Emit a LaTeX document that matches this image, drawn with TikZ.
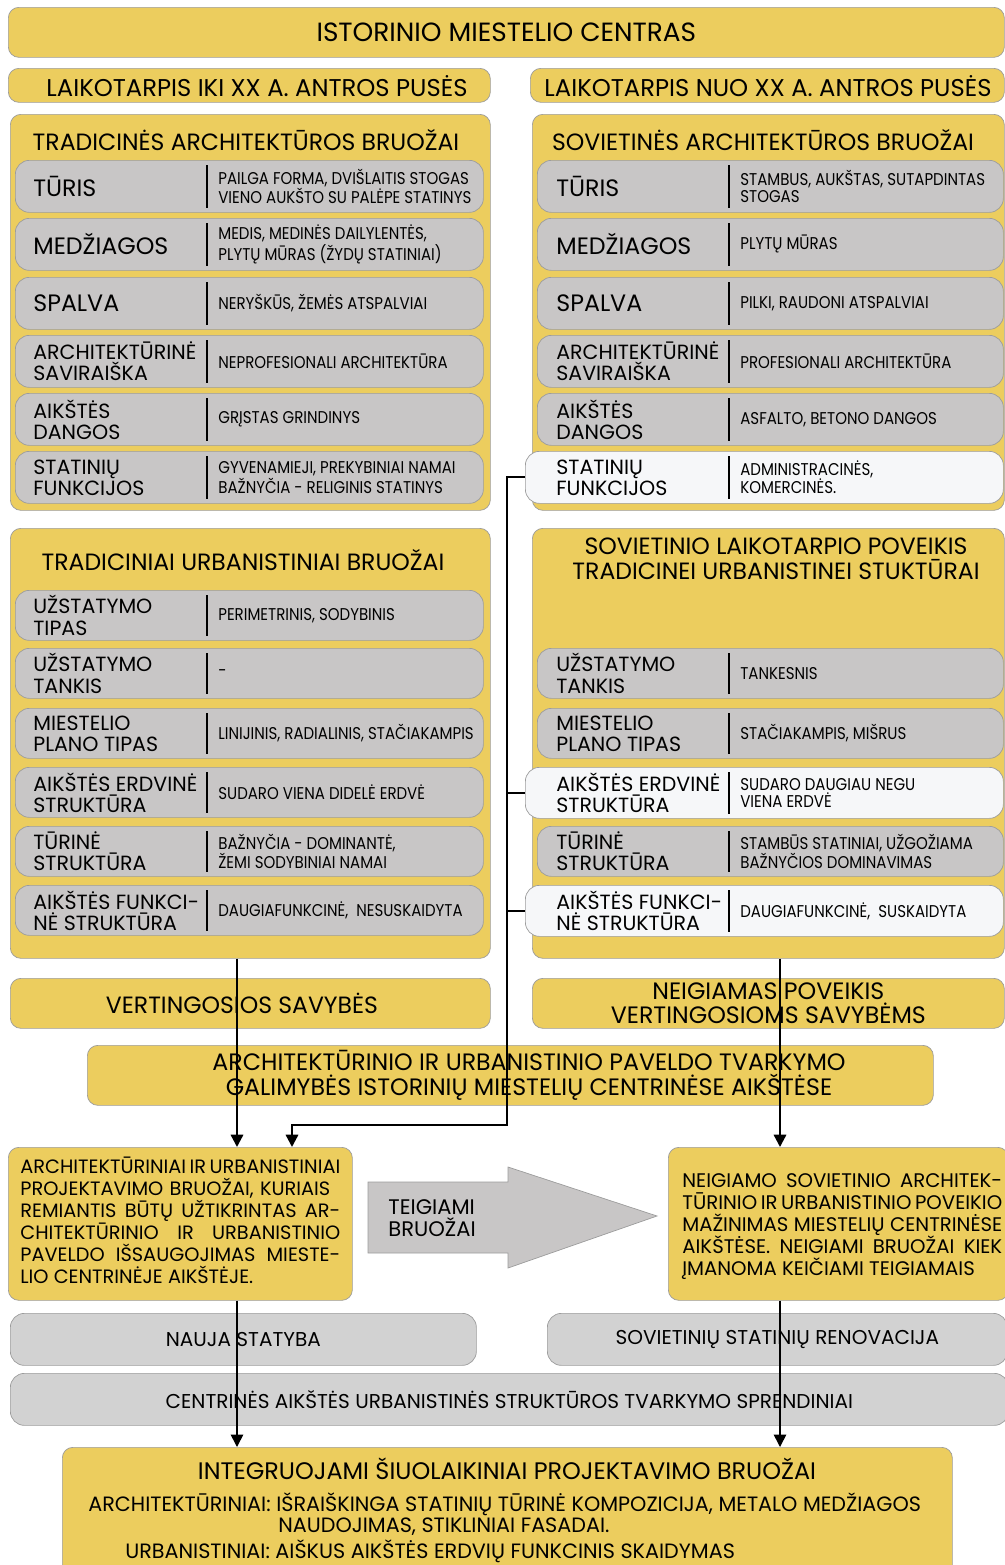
\documentclass[tikz,border=0pt]{standalone}
\usepackage{fontspec}
\setmainfont{Poppins}
\newfontfamily\narrowfont[FakeStretch=0.88]{Poppins}
\usetikzlibrary{positioning,arrows.meta,calc}
\definecolor{ylw}{HTML}{ECCD5E}
\definecolor{rowgray}{HTML}{C8C6C6}
\definecolor{rowwhite}{HTML}{F6F7F9}
\definecolor{edgegray}{HTML}{9C9C9C}
\definecolor{boxgray}{HTML}{D2D2D2}
\newcommand\px{0.02cm}
\newcommand\jline[1]{\makebox[6.4cm][s]{#1}}
\newcommand\biglab{\fontsize{13.5}{14}\selectfont}

\begin{document}
\begin{tikzpicture}[x=0.02cm, y=-0.02cm,
    panel/.style={draw=edgegray, fill=ylw, rounded corners=6pt, anchor=north west, inner sep=0pt, align=center},
    graybox/.style={panel, fill=boxgray, rounded corners=8pt},
    grayrow/.style={draw=edgegray, fill=rowgray, rounded corners=8pt, anchor=north west, inner sep=0pt},
    whiterow/.style={grayrow, fill=rowwhite},
    head/.style={font=\fontsize{13.4}{14.2}\selectfont, align=center, inner sep=0pt},
    lab/.style={font=\fontsize{11.7}{12}\selectfont, align=left, anchor=west, inner sep=0pt},
    val/.style={font=\narrowfont\fontsize{9.7}{9.9}\selectfont, align=left, anchor=west, inner sep=0pt},
    txt/.style={font=\fontsize{11}{12.5}\selectfont, align=left, inner sep=0pt},
    arr/.style={-{Triangle[width=7pt,length=7pt]}, line width=1.3pt},
    link/.style={line width=1.3pt},
  ]
    \useasboundingbox (0,0) rectangle (1004,1565);

    % header
    \node[panel, minimum width=996*\px, minimum height=50*\px, font=\fontsize{15}{16}\selectfont] (title) at (8,7) {ISTORINIO MIESTELIO CENTRAS};
    \node[panel, minimum width=482*\px, minimum height=34*\px] (perL) at (8,68) {};
    \node[head, font=\fontsize{13.8}{15}\selectfont] (perLt) at (257,86) {LAIKOTARPIS IKI XX A. ANTROS PUSĖS};
    \node[panel, minimum width=474*\px, minimum height=34*\px] (perR) at (530,68) {};
    \node[head, font=\fontsize{13.8}{15}\selectfont] (perRt) at (768,86) {LAIKOTARPIS NUO XX A. ANTROS PUSĖS};

    % panels
    \node[panel, minimum width=480*\px, minimum height=396*\px] (archL) at (10,114) {};
    \node[head] (archLt) at (246,140) {TRADICINĖS ARCHITEKTŪROS BRUOŽAI};
    \node[panel, minimum width=472*\px, minimum height=396*\px] (archR) at (532,114) {};
    \node[head] (archRt) at (763,140) {SOVIETINĖS ARCHITEKTŪROS BRUOŽAI};
    \node[panel, minimum width=480*\px, minimum height=430*\px] (urbL) at (10,528) {};
    \node[head] (urbLt) at (243,560) {TRADICINIAI URBANISTINIAI BRUOŽAI};
    \node[panel, minimum width=472*\px, minimum height=430*\px] (urbR) at (532,528) {};
    \node[head] (urbRt) at (776,559) {SOVIETINIO LAIKOTARPIO POVEIKIS\\TRADICINEI URBANISTINEI STUKTŪRAI};

    \coordinate (labL) at (33,0);  \coordinate (divL) at (207,0); \coordinate (valL) at (218,0);
    \coordinate (labR) at (556,0); \coordinate (divR) at (729,0); \coordinate (valR) at (740,0);

    % left rows
    \foreach \n/\yy/\hh/\lab/\val in {
      aL1/160/52/{\biglab TŪRIS}/{PAILGA FORMA, DVIŠLAITIS STOGAS\\VIENO AUKŠTO SU PALĖPE STATINYS},
      aL2/218/52/{\biglab MEDŽIAGOS}/{MEDIS, MEDINĖS DAILYLENTĖS,\\PLYTŲ MŪRAS (ŽYDŲ STATINIAI)},
      aL3/277/52/{\biglab SPALVA}/{NERYŠKŪS, ŽEMĖS ATSPALVIAI},
      aL4/335/52/ARCHITEKTŪRINĖ\\SAVIRAIŠKA/{NEPROFESIONALI ARCHITEKTŪRA},
      aL5/393/52/AIKŠTĖS\\DANGOS/{GRĮSTAS GRINDINYS},
      aL6/451/52/STATINIŲ\\FUNKCIJOS/{GYVENAMIEJI, PREKYBINIAI NAMAI\\BAŽNYČIA - RELIGINIS STATINYS},
      uL1/590/50/UŽSTATYMO\\TIPAS/{PERIMETRINIS, SODYBINIS},
      uL2/648/50/UŽSTATYMO\\TANKIS/{-},
      uL3/708/50/MIESTELIO\\PLANO TIPAS/{LINIJINIS, RADIALINIS, STAČIAKAMPIS},
      uL4/767/50/AIKŠTĖS ERDVINĖ\\STRUKTŪRA/{SUDARO VIENA DIDELĖ ERDVĖ},
      uL5/826/50/TŪRINĖ\\STRUKTŪRA/{BAŽNYČIA - DOMINANTĖ,\\ŽEMI SODYBINIAI NAMAI},
      uL6/885/50/AIKŠTĖS FUNKCI-\\NĖ STRUKTŪRA/{DAUGIAFUNKCINĖ,\ \ NESUSKAIDYTA}}
    {
      \node[grayrow, minimum width=468*\px, minimum height=\hh*\px] (\n) at (15,\yy) {};
      \node[lab] (\n-l) at (\n.west -| labL) {\lab};
      \draw[line width=0.7pt] ([yshift=-5*\px]\n.north -| divL) -- ([yshift=5*\px]\n.south -| divL);
      \node[val] (\n-v) at (\n.west -| valL) {\val};
    }

    % right rows
    \foreach \n/\xx/\yy/\hh/\st/\lab/\val in {
      aR1/537/160/52/grayrow/{\biglab TŪRIS}/{STAMBUS, AUKŠTAS, SUTAPDINTAS\\STOGAS},
      aR2/537/218/52/grayrow/{\biglab MEDŽIAGOS}/{PLYTŲ MŪRAS},
      aR3/537/277/52/grayrow/{\biglab SPALVA}/{PILKI, RAUDONI ATSPALVIAI},
      aR4/537/335/52/grayrow/ARCHITEKTŪRINĖ\\SAVIRAIŠKA/{PROFESIONALI ARCHITEKTŪRA},
      aR5/537/393/52/grayrow/AIKŠTĖS\\DANGOS/{ASFALTO, BETONO DANGOS},
      aR6/525/451/52/whiterow/STATINIŲ\\FUNKCIJOS/{ADMINISTRACINĖS,\\KOMERCINĖS.},
      uR2/537/648/50/grayrow/UŽSTATYMO\\TANKIS/{TANKESNIS},
      uR3/537/708/50/grayrow/MIESTELIO\\PLANO TIPAS/{STAČIAKAMPIS, MIŠRUS},
      uR4/525/767/51/whiterow/AIKŠTĖS ERDVINĖ\\STRUKTŪRA/{SUDARO DAUGIAU NEGU\\VIENA ERDVĖ},
      uR5/537/826/50/grayrow/TŪRINĖ\\STRUKTŪRA/{STAMBŪS STATINIAI, UŽGOŽIAMA\\BAŽNYČIOS DOMINAVIMAS},
      uR6/525/885/51/whiterow/AIKŠTĖS FUNKCI-\\NĖ STRUKTŪRA/{DAUGIAFUNKCINĖ,\ \ SUSKAIDYTA}}
    {
      \node[\st, minimum width=(1003-\xx)*\px, minimum height=\hh*\px] (\n) at (\xx,\yy) {};
      \node[lab] (\n-l) at (\n.west -| labR) {\lab};
      \draw[line width=0.7pt] ([yshift=-5*\px]\n.north -| divR) -- ([yshift=5*\px]\n.south -| divR);
      \node[val] (\n-v) at (\n.west -| valR) {\val};
    }

    % results
    \node[panel, minimum width=480*\px, minimum height=50*\px] (vert) at (10,978) {};
    \node[head] (vertt) at (242,1003) {VERTINGOSIOS SAVYBĖS};
    \node[panel, minimum width=472*\px, minimum height=50*\px, font=\fontsize{13.5}{13.8}\selectfont] (neig) at (532,978) {NEIGIAMAS POVEIKIS\\VERTINGOSIOMS SAVYBĖMS};
    \node[panel, minimum width=846*\px, minimum height=60*\px] (tvark) at (87,1045) {};
    \node[head, font=\fontsize{13.5}{14.2}\selectfont] (tvarkt) at (529,1075) {ARCHITEKTŪRINIO IR URBANISTINIO PAVELDO TVARKYMO\\GALIMYBĖS ISTORINIŲ MIESTELIŲ CENTRINĖSE AIKŠTĖSE};

    % design boxes
    \node[panel, minimum width=344*\px, minimum height=153*\px] (projL) at (8,1147) {};
    \node[txt, anchor=north west] (projLt) at (20,1157) {%
      \jline{ARCHITEKTŪRINIAI IR URBANISTINIAI}\\
      \makebox[6.2cm][s]{PROJEKTAVIMO BRUOŽAI, KURIAIS}\\
      \jline{REMIANTIS BŪTŲ UŽTIKRINTAS AR-}\\
      \jline{CHITEKTŪRINIO IR URBANISTINIO}\\
      \jline{PAVELDO IŠSAUGOJIMAS MIESTE-}\\
      LIO CENTRINĖJE AIKŠTĖJE.};
    \node[panel, minimum width=340*\px, minimum height=153*\px] (projR) at (668,1147) {};
    \node[txt, anchor=north west, font=\fontsize{11.2}{12.5}\selectfont] (projRt) at (682,1173) {%
      \jline{NEIGIAMO SOVIETINIO ARCHITEK-}\\
      \jline{TŪRINIO IR URBANISTINIO POVEIKIO}\\
      \jline{MAŽINIMAS MIESTELIŲ CENTRINĖSE}\\
      \jline{AIKŠTĖSE. NEIGIAMI BRUOŽAI KIEK}\\
      ĮMANOMA KEIČIAMI TEIGIAMAIS};
    \filldraw[fill=rowgray, draw=edgegray] (368,1182) -- (508,1182) -- (508,1167) -- (657,1216)
      -- (508,1268) -- (508,1253) -- (368,1253) -- cycle;
    \node[txt, anchor=west, font=\fontsize{12}{12.5}\selectfont] (teig) at (388,1218) {TEIGIAMI\\BRUOŽAI};

    % solutions
    \node[graybox, minimum width=466*\px, minimum height=52*\px, font=\fontsize{11.4}{12}\selectfont] (nauja) at (10,1313) {NAUJA STATYBA};
    \node[graybox, minimum width=460*\px, minimum height=52*\px, font=\fontsize{11.4}{12}\selectfont] (renov) at (547,1313) {SOVIETINIŲ STATINIŲ RENOVACIJA};
    \node[graybox, minimum width=998*\px, minimum height=52*\px, font=\fontsize{11.4}{12}\selectfont] (sprend) at (10,1373) {CENTRINĖS AIKŠTĖS URBANISTINĖS STRUKTŪROS TVARKYMO SPRENDINIAI};

    \node[panel, minimum width=890*\px, minimum height=130*\px] (integ) at (62,1447) {};
    \node[txt, font=\fontsize{13.6}{14}\selectfont] (integt) at (507,1469) {INTEGRUOJAMI ŠIUOLAIKINIAI PROJEKTAVIMO BRUOŽAI};
    \node[txt, anchor=west, font=\fontsize{11.8}{12}\selectfont] (intega) at (88,1504) {ARCHITEKTŪRINIAI: IŠRAIŠKINGA STATINIŲ TŪRINĖ KOMPOZICIJA, METALO MEDŽIAGOS};
    \node[txt, anchor=west, font=\fontsize{11.8}{12}\selectfont] (integb) at (278,1527) {NAUDOJIMAS, STIKLINIAI FASADAI.};
    \node[txt, anchor=west, font=\fontsize{11.8}{12}\selectfont] (integc) at (125,1551) {URBANISTINIAI: AIŠKUS AIKŠTĖS ERDVIŲ FUNKCINIS SKAIDYMAS};

    % connectors
    \coordinate (colL) at (237,0); \coordinate (colR) at (780,0);
    \coordinate (colM) at (507,0); \coordinate (colB) at (292,0);
    \coordinate (bend) at (0,1125);
    \draw[arr] (urbL.south -| colL) -- (projL.north -| colL);
    \draw[arr] (urbR.south -| colR) -- (projR.north -| colR);
    \draw[arr] (aR6.west) -- (aR6.west -| colM) -- (bend -| colM) -- (bend -| colB) -- (projL.north -| colB);
    \draw[link] (uR4.west) -- (uR4.west -| colM);
    \draw[link] (uR6.west) -- (uR6.west -| colM);
    \draw[arr, line width=0.9pt] (projL.south -| colL) -- (integ.north -| colL);
    \draw[arr, line width=0.9pt] (projR.south -| colR) -- (integ.north -| colR);
  \end{tikzpicture}
\end{document}
